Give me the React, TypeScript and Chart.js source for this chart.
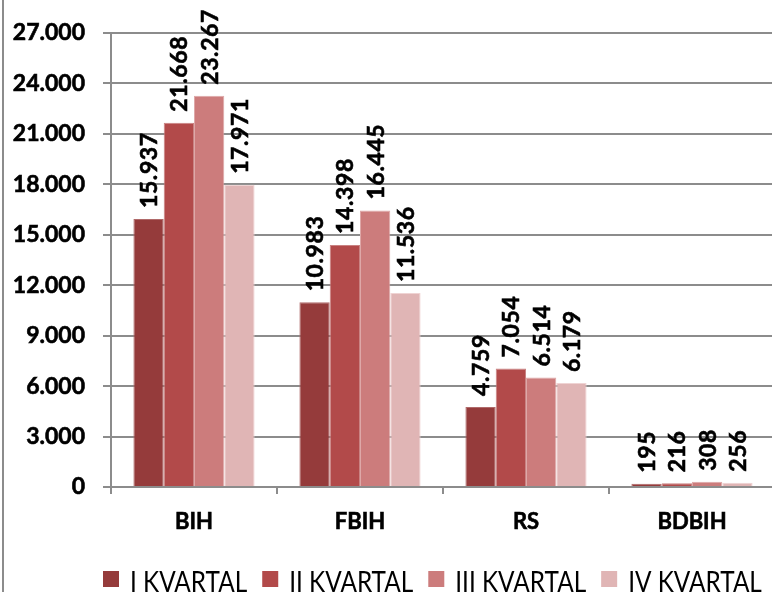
import React, { useEffect, useRef } from "react";
import { Chart, registerables } from "chart.js";

Chart.register(...registerables);

const categories = ["BIH", "FBIH", "RS", "BDBIH"];
const seriesNames = ["I KVARTAL", "II KVARTAL", "III KVARTAL", "IV KVARTAL"];
const q1 = [15937, 10983, 4759, 195];
const q2 = [21668, 14398, 7054, 216];
const q3 = [23267, 16445, 6514, 308];
const q4 = [17971, 11536, 6179, 256];
const colors = ["#953B3B", "#B24A4A", "#CC7C7C", "#E0B5B5"];
const borderColors = ["#B06A6A", "#C98282", "#DEA8A8", "#EFD3D3"];

const W = 775;
const H = 600;

function fmt(v: number): string {
  return Math.round(v)
    .toString()
    .replace(/\B(?=(\d{3})+(?!\d))/g, ".");
}

const decorPlugin = {
  id: "decor",
  beforeDraw(chart: any) {
    const ctx = chart.ctx;
    ctx.save();
    ctx.fillStyle = "#ffffff";
    ctx.fillRect(0, 0, chart.width, chart.height);
    ctx.strokeStyle = "#8c8c8c";
    ctx.lineWidth = 2;
    ctx.beginPath();
    ctx.moveTo(3, 0);
    ctx.lineTo(3, chart.height);
    ctx.stroke();
    ctx.restore();
  },
  afterDatasetsDraw(chart: any) {
    const ctx = chart.ctx;
    ctx.save();
    ctx.font = "bold 23px Lato";
    try {
      (ctx as any).letterSpacing = "0.6px";
    } catch (e) {}
    ctx.fillStyle = "#000";
    ctx.strokeStyle = "#000";
    ctx.lineWidth = 0.6;
    ctx.textAlign = "left";
    ctx.textBaseline = "middle";
    chart.data.datasets.forEach((ds: any, di: number) => {
      const meta = chart.getDatasetMeta(di);
      meta.data.forEach((bar: any, i: number) => {
        ctx.save();
        ctx.translate(bar.x + 1, bar.y - 11);
        ctx.rotate(-Math.PI / 2);
        const t = fmt(ds.data[i]);
        ctx.fillText(t, 0, 0);
        ctx.strokeText(t, 0, 0);
        ctx.restore();
      });
    });
    ctx.restore();
  },
  afterDraw(chart: any) {
    const ctx = chart.ctx;
    ctx.save();
    ctx.font = "28px Lato";
    ctx.textBaseline = "alphabetic";
    ctx.textAlign = "left";
    const sx = 0.87;
    let x = 103;
    const yBox = 571;
    const box = 16;
    seriesNames.forEach((name, i) => {
      ctx.fillStyle = colors[i];
      ctx.fillRect(x, yBox, box, box);
      ctx.fillStyle = "#000";
      const tx = x + box + 11;
      ctx.save();
      ctx.translate(tx, 592);
      ctx.scale(sx, 1);
      ctx.fillText(name, 0, 0);
      ctx.restore();
      x = tx + ctx.measureText(name).width * sx + 15;
    });
    ctx.restore();
  },
};

export default function App() {
  const ref = useRef<HTMLCanvasElement | null>(null);
  useEffect(() => {
    if (!ref.current) return;
    const chart = new Chart(ref.current, {
      type: "bar",
      data: {
        labels: categories,
        datasets: [q1, q2, q3, q4].map((d, i) => ({
          label: seriesNames[i],
          data: d,
          backgroundColor: colors[i],
          borderColor: borderColors[i],
          borderWidth: 1,
          categoryPercentage: 0.73,
          barPercentage: 1,
        })),
      },
      options: {
        responsive: false,
        animation: false,
        devicePixelRatio: 1,
        layout: { padding: { top: 33, left: 0, right: 0, bottom: H - 487 - 50 } },
        plugins: {
          legend: { display: false },
          tooltip: { enabled: false },
        },
        scales: {
          x: {
            offset: true,
            grid: {
              offset: true,
              drawOnChartArea: false,
              drawTicks: true,
              tickLength: 7,
              color: "#8c8c8c",
              lineWidth: 2,
            },
            border: { color: "#8c8c8c", width: 2 },
            ticks: {
              color: "#000",
              font: { family: "Lato", weight: "bold", size: 22 },
              padding: 15,
              textStrokeColor: "#000",
              textStrokeWidth: 0.6,
            },
            afterFit(scale: any) {
              scale.height = 50;
            },
          },
          y: {
            min: 0,
            max: 27000,
            ticks: {
              stepSize: 3000,
              color: "#000",
              font: { family: "Lato", weight: "bold", size: 23 },
              padding: 18,
              textStrokeColor: "#000",
              textStrokeWidth: 0.6,
              callback: (v: any) => fmt(Number(v)),
            },
            grid: {
              color: "#8c8c8c",
              lineWidth: 2,
              tickLength: 8,
            },
            border: { color: "#8c8c8c", width: 2 },
            afterFit(scale: any) {
              scale.width = 111;
            },
          },
        },
      },
      plugins: [decorPlugin],
    } as any);
    return () => chart.destroy();
  }, []);
  return (
    <div
      style={{
        position: "fixed",
        left: 0,
        top: 0,
        width: 772,
        height: 592,
        overflow: "hidden",
        background: "#fff",
      }}
    >
      <canvas ref={ref} width={W} height={H} style={{ width: W, height: H, display: "block" }} />
    </div>
  );
}
